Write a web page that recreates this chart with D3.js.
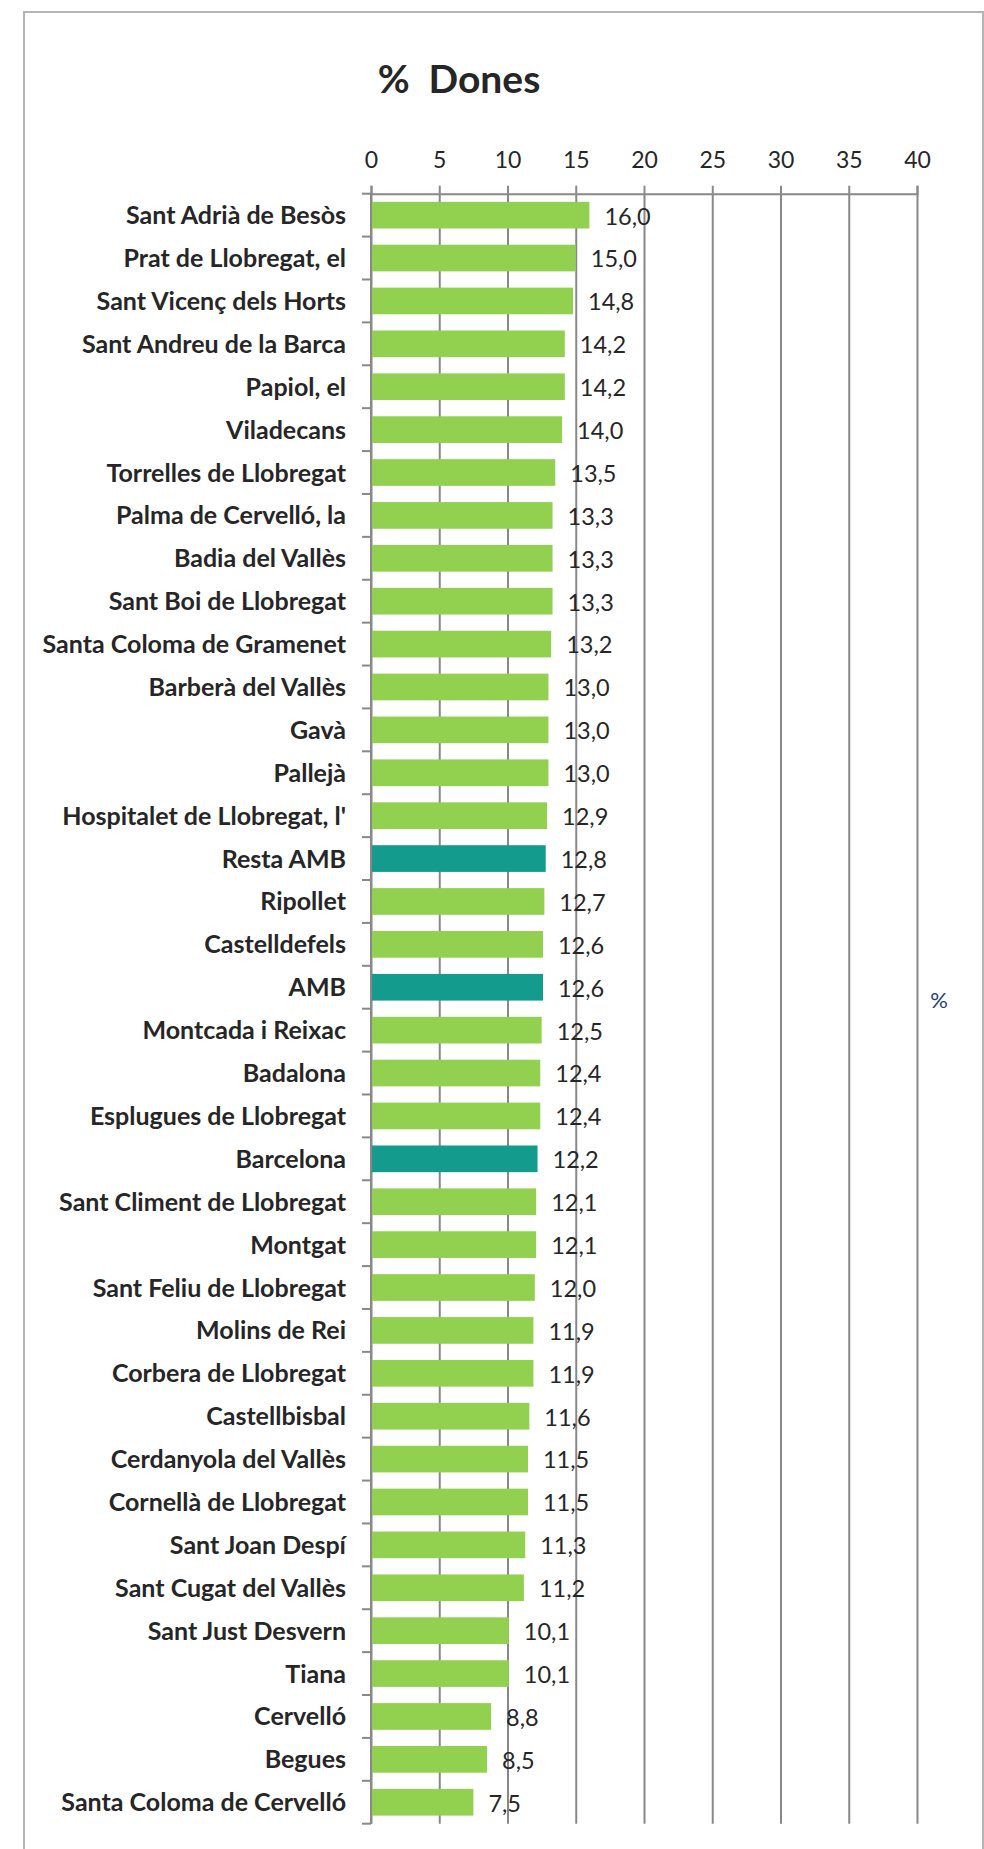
<!DOCTYPE html>
<html>
<head>
<meta charset="utf-8">
<script src="https://cdn.jsdelivr.net/npm/d3@7"></script>
<style>
  body { margin: 0; background: #fff; }
  svg text { font-family: Lato, "Open Sans", sans-serif; }
</style>
</head>
<body>
<script>
var municipis = ["Sant Adrià de Besòs", "Prat de Llobregat, el", "Sant Vicenç dels Horts",
  "Sant Andreu de la Barca", "Papiol, el", "Viladecans", "Torrelles de Llobregat",
  "Palma de Cervelló, la", "Badia del Vallès", "Sant Boi de Llobregat",
  "Santa Coloma de Gramenet", "Barberà del Vallès", "Gavà", "Pallejà",
  "Hospitalet de Llobregat, l'", "Resta AMB", "Ripollet", "Castelldefels", "AMB",
  "Montcada i Reixac", "Badalona", "Esplugues de Llobregat", "Barcelona",
  "Sant Climent de Llobregat", "Montgat", "Sant Feliu de Llobregat", "Molins de Rei",
  "Corbera de Llobregat", "Castellbisbal", "Cerdanyola del Vallès",
  "Cornellà de Llobregat", "Sant Joan Despí", "Sant Cugat del Vallès",
  "Sant Just Desvern", "Tiana", "Cervelló", "Begues", "Santa Coloma de Cervelló"];

var dones = [16.0, 15.0, 14.8, 14.2, 14.2, 14.0, 13.5, 13.3, 13.3, 13.3, 13.2, 13.0,
  13.0, 13.0, 12.9, 12.8, 12.7, 12.6, 12.6, 12.5, 12.4, 12.4, 12.2, 12.1, 12.1, 12.0,
  11.9, 11.9, 11.6, 11.5, 11.5, 11.3, 11.2, 10.1, 10.1, 8.8, 8.5, 7.5];

var agregats = ["Resta AMB", "AMB", "Barcelona"];
var xTicks = [0, 5, 10, 15, 20, 25, 30, 35, 40];

var data = municipis.map(function (m, i) { return { name: m, value: dones[i] }; });

var width = 984, height = 1849,
    plotLeft = 371, plotRight = 917, plotTop = 193.7, plotBottom = 1823.7;

var x = d3.scaleLinear().domain([0, 40]).range([plotLeft, plotRight]);
var y = d3.scaleBand().domain(municipis).range([plotTop, plotBottom])
    .paddingInner(0.378).paddingOuter(0.189);

var fmt = function (v) { return d3.format(".1f")(v).replace(".", ","); };

var svg = d3.select("body").append("svg")
    .attr("width", width)
    .attr("height", height);

// frame
svg.append("path")
    .attr("d", "M24,1849 L24,12 L983,12 L983,1849")
    .attr("fill", "none")
    .attr("stroke", "#b4b4b4")
    .attr("stroke-width", 2);

svg.append("text")
    .attr("x", 459)
    .attr("y", 93)
    .attr("text-anchor", "middle")
    .attr("font-size", 39)
    .attr("font-weight", "bold")
    .attr("fill", "#262626")
    .attr("xml:space", "preserve")
    .text("%  Dones");

// gridlines
svg.append("g")
    .attr("transform", "translate(0," + plotTop + ")")
    .call(d3.axisTop(x).tickValues(xTicks).tickSize(-(plotBottom - plotTop)).tickFormat(""))
    .call(function (g) {
      g.select(".domain").remove();
      g.selectAll("line").attr("stroke", "#888").attr("stroke-width", 2);
    });

// top axis
svg.append("g")
    .attr("transform", "translate(0," + plotTop + ")")
    .call(d3.axisTop(x).tickValues(xTicks).tickSize(8).tickPadding(18))
    .call(function (g) {
      g.select(".domain").attr("stroke", "#888").attr("stroke-width", 2);
      g.selectAll("line").attr("stroke", "#888").attr("stroke-width", 2);
      g.selectAll("text")
        .attr("font-size", 23)
        .attr("fill", "#262626")
        .style("font-family", "Lato, sans-serif");
    });

// bars
svg.selectAll("rect.bar")
    .data(data)
  .enter().append("rect")
    .attr("class", "bar")
    .attr("x", x(0))
    .attr("y", function (d) { return y(d.name); })
    .attr("width", function (d) { return x(d.value) - x(0); })
    .attr("height", y.bandwidth())
    .attr("fill", function (d) { return agregats.indexOf(d.name) >= 0 ? "#139b8e" : "#92d050"; });

// left axis with ticks between categories
var step = y.step();
var bounds = municipis.map(function (m) { return y(m) - (step - y.bandwidth()) / 2; });
bounds.push(plotBottom);

svg.append("line")
    .attr("x1", plotLeft).attr("x2", plotLeft)
    .attr("y1", plotTop).attr("y2", plotBottom)
    .attr("stroke", "#888").attr("stroke-width", 2);

svg.selectAll("line.ytick")
    .data(bounds)
  .enter().append("line")
    .attr("class", "ytick")
    .attr("x1", plotLeft - 9).attr("x2", plotLeft)
    .attr("y1", function (d) { return d; })
    .attr("y2", function (d) { return d; })
    .attr("stroke", "#888").attr("stroke-width", 2);

// category labels
svg.selectAll("text.cat")
    .data(data)
  .enter().append("text")
    .attr("class", "cat")
    .attr("x", 346)
    .attr("y", function (d) { return y(d.name) + y.bandwidth() / 2; })
    .attr("dy", "0.36em")
    .attr("text-anchor", "end")
    .attr("font-size", 25)
    .attr("font-weight", "bold")
    .attr("fill", "#262626")
    .text(function (d) { return d.name; });

// value labels
svg.selectAll("text.val")
    .data(data)
  .enter().append("text")
    .attr("class", "val")
    .attr("x", function (d) { return x(d.value) + 15; })
    .attr("y", function (d) { return y(d.name) + y.bandwidth() / 2; })
    .attr("dy", "0.4em")
    .attr("font-size", 23.5)
    .attr("fill", "#262626")
    .text(function (d) { return fmt(d.value); });

svg.append("text")
    .attr("x", 939)
    .attr("y", 1000)
    .attr("dy", "0.36em")
    .attr("text-anchor", "middle")
    .attr("font-size", 22)
    .attr("fill", "#1f3a7a")
    .text("%");
</script>
</body>
</html>
